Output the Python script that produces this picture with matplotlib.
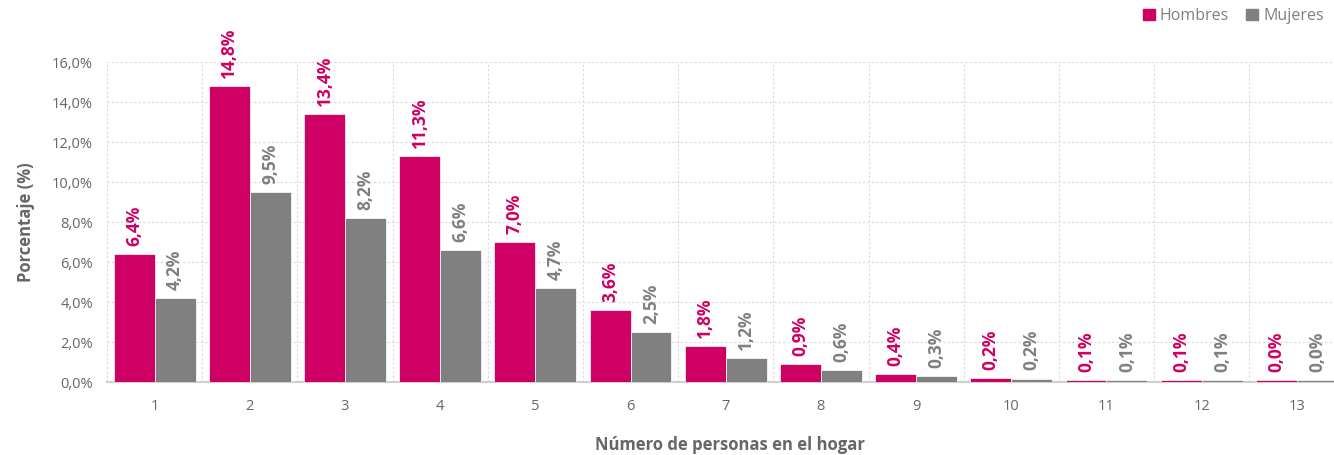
import numpy as np
import matplotlib
matplotlib.use('Agg')
from matplotlib import pyplot as plt
from matplotlib.patches import Patch

plt.rcParams['font.family'] = ['Open Sans', 'DejaVu Sans']

categorias = ['1', '2', '3', '4', '5', '6', '7', '8', '9', '10', '11', '12', '13']
hombres = [6.4, 14.8, 13.4, 11.3, 7.0, 3.6, 1.8, 0.9, 0.4, 0.2, 0.1, 0.1, 0.04]
mujeres = [4.2, 9.5, 8.2, 6.6, 4.7, 2.5, 1.2, 0.6, 0.3, 0.16, 0.1, 0.1, 0.04]
yticks = [0, 2, 4, 6, 8, 10, 12, 14, 16]

c_h = '#CE0063'
c_m = '#808080'
gris = '#666666'

fig = plt.figure(figsize=(13.34, 4.55), dpi=100)
ax = fig.add_axes([107/1334, 73/455, 1 - 107/1334, 320/455])

x = np.arange(1, len(categorias) + 1)
w = 0.43
# altura minima visible como en el original
h_draw = np.maximum(hombres, 0.1)
m_draw = np.maximum(mujeres, 0.1)
ax.bar(x - w/2, h_draw, w, color=c_h, edgecolor='white', linewidth=0.5, zorder=3)
ax.bar(x + w/2, m_draw, w, color=c_m, edgecolor='white', linewidth=0.5, zorder=3)

for xi, v, d in zip(x, hombres, h_draw):
    ax.annotate(f'{v:.1f}%'.replace('.', ','), (xi - w/2, d), xytext=(0, 6),
                textcoords='offset points', rotation=90, ha='center', va='bottom',
                color=c_h, fontsize=12.5, fontweight='bold')
for xi, v, d in zip(x, mujeres, m_draw):
    ax.annotate(f'{v:.1f}%'.replace('.', ','), (xi + w/2, d), xytext=(0, 6),
                textcoords='offset points', rotation=90, ha='center', va='bottom',
                color=c_m, fontsize=12.5, fontweight='bold')

ax.set_xlim(0.5, 13.39)
ax.set_ylim(0, 16)
ax.set_yticks(yticks)
ax.set_yticklabels([f'{t:.1f}%'.replace('.', ',') for t in yticks])
ax.set_xticks(x)
ax.set_xticklabels(categorias)
ax.tick_params(length=0, colors=gris, labelsize=10.5, pad=12)
ax.tick_params(axis='y', pad=10)

for b in np.arange(0.5, 13.5, 1):
    ax.axvline(b, color='#d9d9d9', ls=(0, (2, 2)), lw=0.8, zorder=0)
ax.yaxis.grid(True, color='#d9d9d9', ls=(0, (2, 2)), lw=0.8, zorder=0)
for s in ['top', 'right', 'left']:
    ax.spines[s].set_visible(False)
ax.spines['bottom'].set_color('#d0d0d0')
ax.spines['bottom'].set_linewidth(1.5)

ax.set_ylabel('Porcentaje (%)', color=gris, fontsize=12, fontweight='bold', labelpad=12)
fig.text(730/1334, 1 - 445/455, 'Número de personas en el hogar', color=gris, fontsize=12,
         fontweight='bold', ha='center', va='center')

handles = [Patch(color=c_h, label='Hombres'), Patch(color=c_m, label='Mujeres')]
leg = fig.legend(handles=handles, loc='upper right', bbox_to_anchor=(1.003, 1.014), ncol=2,
                 frameon=False, fontsize=11.5, handlelength=0.75, handleheight=0.75,
                 handletextpad=0.3, columnspacing=1.1)
for t in leg.get_texts():
    t.set_color('#808080')

fig.savefig('out.png', dpi=100)
